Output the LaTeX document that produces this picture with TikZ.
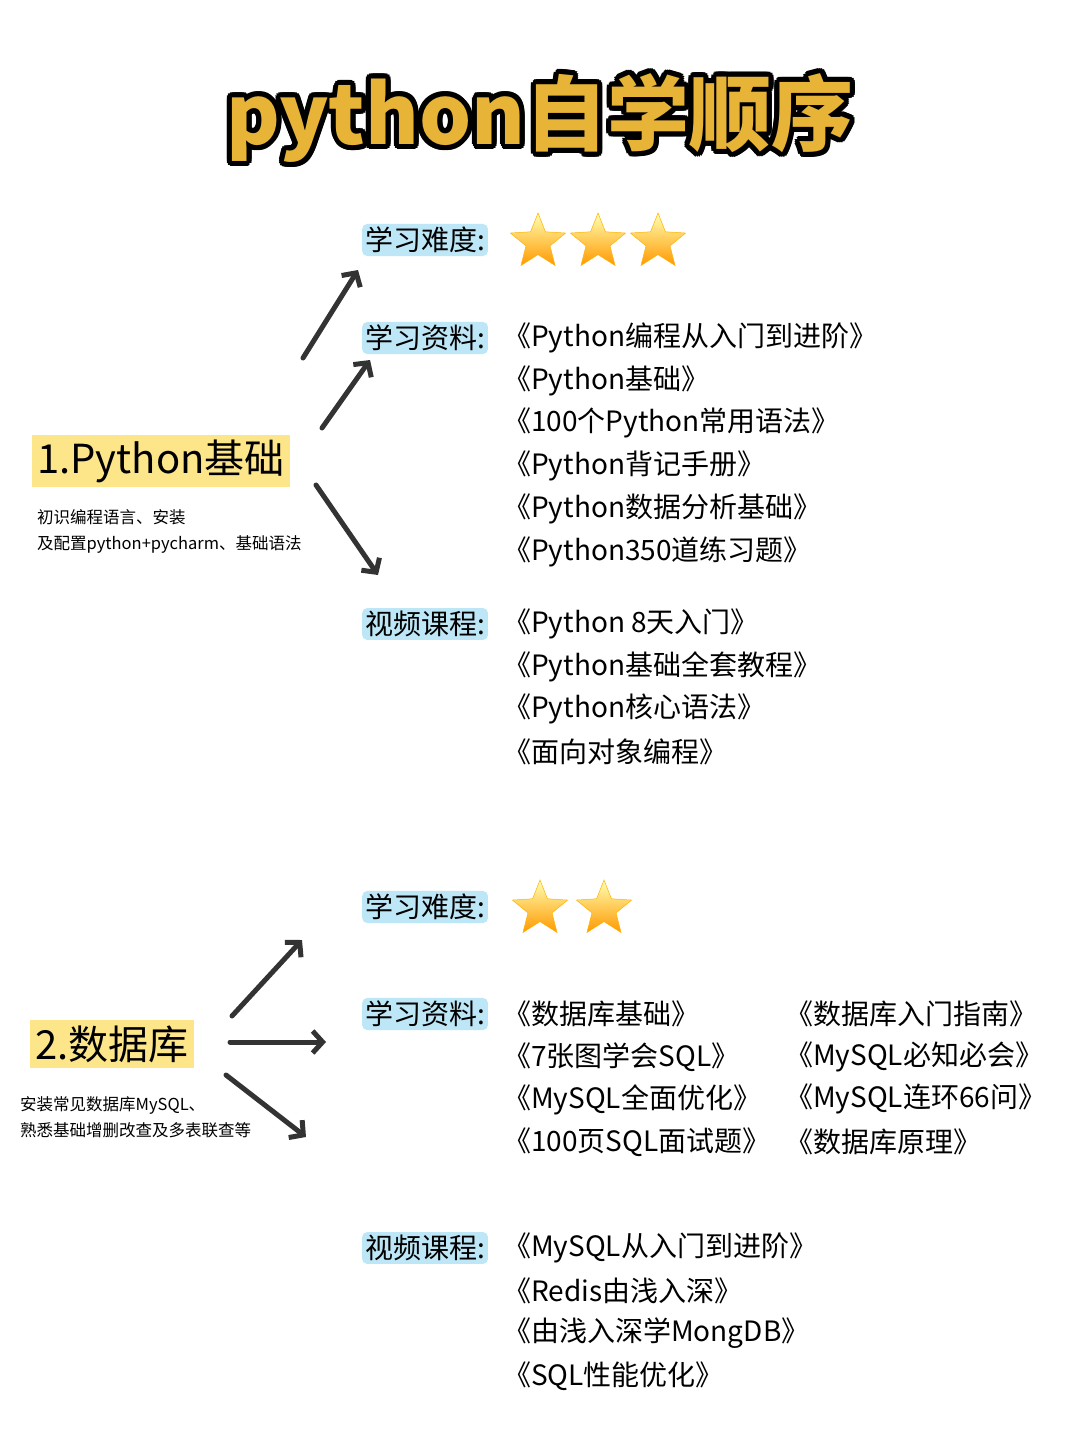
\documentclass[tikz,border=0pt]{standalone}
\usepackage{fontspec}
\setmainfont{Noto Sans CJK SC}
\usetikzlibrary{shapes.geometric,arrows.meta,calc}
\definecolor{gold}{HTML}{E7B437}
\definecolor{lblue}{HTML}{BDE6F7}
\definecolor{lyel}{HTML}{FDE68A}
\definecolor{arr}{HTML}{333333}
\tikzset{
 lab/.style={fill=lblue,rounded corners=5pt,inner sep=3pt,font=\fontsize{28}{30}\selectfont,anchor=west},
 item/.style={font=\fontsize{28}{30}\selectfont,anchor=west,inner sep=0pt},
 head/.style={fill=lyel,inner sep=5pt,font=\fontsize{40}{44}\selectfont,anchor=west},
 small/.style={font=\fontsize{16.5}{20}\selectfont,anchor=west,inner sep=0pt},
 ar/.style={line width=5pt,draw=arr,-{Straight Barb[length=10pt,width=22pt,line width=5pt]},line cap=round},
 st/.style={star,star points=5,star point ratio=2.3,minimum size=58pt,inner sep=0pt,top color=yellow!30,bottom color=orange!80!yellow,draw=orange!60!yellow,line width=0.5pt}
}
\begin{document}
\begin{tikzpicture}[x=1pt,y=-1pt]
\useasboundingbox (0,0) rectangle (1080,1440);
\fill[white] (0,0) rectangle (1080,1440);
% title
\foreach \a in {0,22.5,...,359}{
 \node[font=\fontsize{82}{90}\selectfont\bfseries,text=black] at ($(540,118)+(\a:5pt)$) {python自学顺序};
}
\node (title) [font=\fontsize{82}{90}\selectfont\bfseries,text=gold] at (540,118) {python自学顺序};
% section 1
\node (h1) [head] at (32,461) {1.Python基础};
\node (s1a) [small] at (37,517) {初识编程语言、安装};
\node (s1b) [small] at (37,544) {及配置python+pycharm、基础语法};
\node (d1) [lab] at (362,240) {学习难度:};
\node (st1) [st] at (538,242) {};
\node (st2) [st] at (598,242) {};
\node (st3) [st] at (658,242) {};
\node (m1) [lab] at (362,338) {学习资料:};
\foreach \t [count=\i from 0] in {《Python编程从入门到进阶》,《Python基础》,《100个Python常用语法》,《Python背记手册》,《Python数据分析基础》,《Python350道练习题》}{
 \node[item] at (503,338+42.7*\i) {\t};
}
\node (v1) [lab] at (362,624) {视频课程:};
\foreach \t [count=\i from 0] in {《Python 8天入门》,《Python基础全套教程》,《Python核心语法》,《面向对象编程》}{
 \node[item] at (503,624+42.7*\i) {\t};
}
\coordinate (a1s) at (303,358); \coordinate (a1e) at (358,270);
\coordinate (a2s) at (322,428); \coordinate (a2e) at (370,360);
\coordinate (a3s) at (316,485); \coordinate (a3e) at (378,575);
\draw[ar] (a1s) -- (a1e);
\draw[ar] (a2s) -- (a2e);
\draw[ar] (a3s) -- (a3e);
% section 2
\node (h2) [head] at (30,1044) {2.数据库};
\node (s2a) [small] at (20,1105) {安装常见数据库MySQL、};
\node (s2b) [small] at (20,1130) {熟悉基础增删改查及多表联查等};
\node (d2) [lab] at (362,907) {学习难度:};
\node (st4) [st] at (540,909) {};
\node (st5) [st] at (604,909) {};
\node (m2) [lab] at (362,1014) {学习资料:};
\foreach \t [count=\i from 0] in {《数据库基础》,《7张图学会SQL》,《MySQL全面优化》,《100页SQL面试题》}{
 \node[item] at (503,1014+42.7*\i) {\t};
}
\foreach \t [count=\i from 0] in {《数据库入门指南》,《MySQL必知必会》,《MySQL连环66问》,《数据库原理》}{
 \node[item] at (785,1014+42.7*\i) {\t};
}
\node (v2) [lab] at (362,1248) {视频课程:};
\foreach \t [count=\i from 0] in {《MySQL从入门到进阶》,《Redis由浅入深》,《由浅入深学MongDB》,《SQL性能优化》}{
 \node[item] at (503,1248+42.7*\i) {\t};
}
\coordinate (b1s) at (232,1016); \coordinate (b1e) at (302,940);
\coordinate (b2s) at (230,1042); \coordinate (b2e) at (326,1042);
\coordinate (b3s) at (226,1075); \coordinate (b3e) at (306,1137);
\draw[ar] (b1s) -- (b1e);
\draw[ar] (b2s) -- (b2e);
\draw[ar] (b3s) -- (b3e);
\end{tikzpicture}
\end{document}
